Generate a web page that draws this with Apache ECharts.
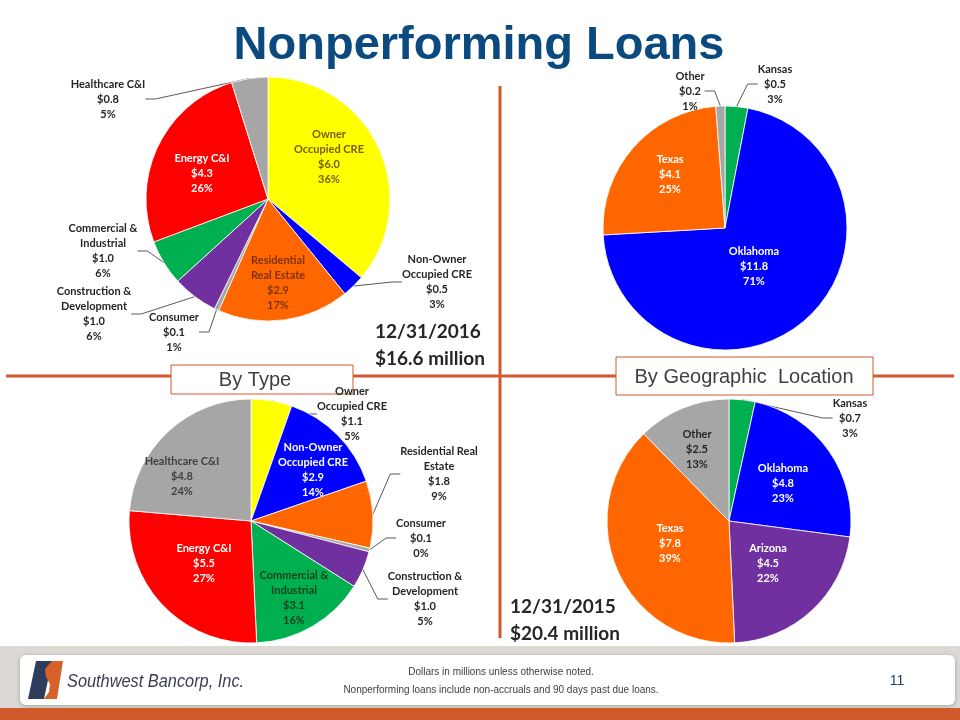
<!DOCTYPE html>
<html>
<head>
<meta charset="utf-8">
<title>Nonperforming Loans</title>
<script src="https://cdn.jsdelivr.net/npm/echarts@6/dist/echarts.min.js"></script>
<style>
  html, body { margin: 0; padding: 0; background: #fff; }
  #slide { width: 960px; height: 720px; }
</style>
</head>
<body>
<div id="slide"></div>
<script>
// 12/31/2016 by type
var type2016Names = ['Owner\nOccupied CRE', 'Non-Owner\nOccupied CRE', 'Residential\nReal Estate', 'Consumer',
  'Construction &\nDevelopment', 'Commercial &\nIndustrial', 'Energy C&I', 'Healthcare C&I'];
var type2016Values = [6.0, 0.5, 2.9, 0.1, 1.0, 1.0, 4.3, 0.8];
var type2016Pct = [36, 3, 17, 1, 6, 6, 26, 5];

// 12/31/2016 by geography
var geo2016Names = ['Kansas', 'Oklahoma', 'Texas', 'Other'];
var geo2016Values = [0.5, 11.8, 4.1, 0.2];
var geo2016Pct = [3, 71, 25, 1];

// 12/31/2015 by type
var type2015Names = ['Owner\nOccupied CRE', 'Non-Owner\nOccupied CRE', 'Residential Real\nEstate', 'Consumer',
  'Construction &\nDevelopment', 'Commercial &\nIndustrial', 'Energy C&I', 'Healthcare C&I'];
var type2015Values = [1.1, 2.9, 1.8, 0.1, 1.0, 3.1, 5.5, 4.8];
var type2015Pct = [5, 14, 9, 0, 5, 16, 27, 24];

// 12/31/2015 by geography
var geo2015Names = ['Kansas', 'Oklahoma', 'Arizona', 'Texas', 'Other'];
var geo2015Values = [0.7, 4.8, 4.5, 7.8, 2.5];
var geo2015Pct = [3, 23, 22, 39, 13];

// colours
var YELLOW = '#ffff00', BLUE = '#0000ff', ORANGE = '#ff6600', GRAY = '#a6a6a6',
    PURPLE = '#7030a0', GREEN = '#00b050', RED = '#ff0000';
var typeColors = [YELLOW, BLUE, ORANGE, GRAY, PURPLE, GREEN, RED, GRAY];
var DARK = '#262626', LINE = '#d2592c', TITLE = '#0b4a7e';

// label styling per slice: [textColor, outside?, labelX, labelY]
var type2016Labels = [
  ['#7a5c00', false, 329, 157], [DARK, true, 437, 282], ['#7f3300', false, 278, 283], [DARK, true, 174, 332],
  [DARK, true, 94, 314], [DARK, true, 103, 251], ['#fff', false, 202, 173], [DARK, true, 108, 99]
];
var geo2016Labels = [
  [DARK, true, 775, 84], ['#fff', false, 754, 266], ['#fff', false, 670, 174], [DARK, true, 690, 91]
];
var type2015Labels = [
  [DARK, true, 352, 414], ['#fff', false, 313, 470], [DARK, true, 439, 474], [DARK, true, 421, 538],
  [DARK, true, 425, 599], ['#14401f', false, 294, 598], ['#fff', false, 204, 563], ['#404040', false, 182, 476]
];
var geo2015Labels = [
  [DARK, true, 850, 418], ['#fff', false, 783, 483], ['#fff', false, 768, 563], ['#fff', false, 670, 543], [DARK, false, 697, 449]
];

function makePie(names, values, pct, colors, labels, center) {
  var data = names.map(function (n, i) {
    var lb = labels[i];
    return {
      name: n,
      value: values[i],
      pct: pct[i],
      itemStyle: { color: colors[i] },
      label: { color: lb[0], position: lb[1] ? 'outside' : 'inside' },
      labelLine: { show: lb[1] }
    };
  });
  return {
    type: 'pie',
    center: center,
    radius: 122,
    startAngle: 90,
    clockwise: true,
    avoidLabelOverlap: false,
    silent: true,
    z: 3,
    data: data,
    itemStyle: { borderColor: '#fff', borderWidth: 0.8 },
    label: {
      fontFamily: 'Lato, "Open Sans", sans-serif',
      fontWeight: 'bold',
      fontSize: 11,
      lineHeight: 15,
      align: 'center',
      formatter: function (p) {
        return p.name + '\n$' + p.value.toFixed(1) + '\n' + p.data.pct + '%';
      }
    },
    labelLine: { lineStyle: { color: '#595959', width: 1 }, length: 10, length2: 10 },
    labelLayout: function (p) {
      var lb = labels[p.dataIndex];
      return { x: lb[2], y: lb[3], align: 'center', verticalAlign: 'middle' };
    }
  };
}

var chart = echarts.init(document.getElementById('slide'), null, { renderer: 'canvas' });

var option = {
  animation: false,
  backgroundColor: '#ffffff',
  series: [
    makePie(type2016Names, type2016Values, type2016Pct, typeColors, type2016Labels, [268, 199]),
    makePie(geo2016Names, geo2016Values, geo2016Pct, [GREEN, BLUE, ORANGE, GRAY], geo2016Labels, [725, 228]),
    makePie(type2015Names, type2015Values, type2015Pct, typeColors, type2015Labels, [251, 521]),
    makePie(geo2015Names, geo2015Values, geo2015Pct, [GREEN, BLUE, PURPLE, ORANGE, GRAY], geo2015Labels, [729, 521])
  ],
  graphic: [
    // title
    { type: 'text', z: 10, x: 479, y: 46,
      style: { text: 'Nonperforming Loans', font: 'bold 47px "Liberation Sans", Arial, sans-serif', fill: TITLE,
        align: 'center', verticalAlign: 'middle' } },
    // divider lines
    { type: 'line', z: 0, shape: { x1: 6, y1: 376, x2: 954, y2: 376 }, style: { stroke: LINE, lineWidth: 3 } },
    { type: 'line', z: 0, shape: { x1: 500, y1: 86, x2: 500, y2: 638 }, style: { stroke: LINE, lineWidth: 3 } },
    // section boxes
    { type: 'rect', z: 1, shape: { x: 171, y: 365, width: 182, height: 29 },
      style: { fill: '#fff', stroke: LINE, lineWidth: 1 } },
    { type: 'text', z: 1, x: 255, y: 380,
      style: { text: 'By Type', font: '20px "Liberation Sans", Arial, sans-serif', fill: '#404040', align: 'center', verticalAlign: 'middle' } },
    { type: 'rect', z: 1, shape: { x: 616, y: 357, width: 257, height: 38 },
      style: { fill: '#fff', stroke: LINE, lineWidth: 1 } },
    { type: 'text', z: 1, x: 744, y: 377,
      style: { text: 'By Geographic  Location', font: '20px "Liberation Sans", Arial, sans-serif', fill: '#404040', align: 'center', verticalAlign: 'middle' } },
    // dates and totals
    { type: 'text', z: 6, x: 375, y: 318,
      style: { text: '12/31/2016\n$16.6 million', font: 'bold 19px Lato, sans-serif', lineHeight: 27, fill: DARK } },
    { type: 'text', z: 6, x: 510, y: 593,
      style: { text: '12/31/2015\n$20.4 million', font: 'bold 19px Lato, sans-serif', lineHeight: 27, fill: DARK } },
    // footer
    { type: 'rect', z: 1, shape: { x: 0, y: 646, width: 960, height: 74 }, style: { fill: '#dcd8d3' } },
    { type: 'rect', z: 2, shape: { x: 20, y: 655, width: 935, height: 50, r: 6 },
      style: { fill: '#ffffff', shadowBlur: 4, shadowColor: 'rgba(0,0,0,0.25)', shadowOffsetY: 1 } },
    { type: 'rect', z: 3, shape: { x: 0, y: 708, width: 960, height: 12 }, style: { fill: '#d2592c' } },
    { type: 'polygon', z: 4, shape: { points: [[36, 661], [52, 661], [44, 699], [28, 699]] }, style: { fill: '#2f3d5c' } },
    { type: 'polygon', z: 5, shape: { points: [[52, 661], [63, 661], [57, 699], [44, 699], [49, 692], [50, 684], [46, 677], [45, 669]] },
      style: { fill: '#d8602a' } },
    { type: 'text', z: 6, x: 67, y: 682, scaleX: 0.86,
      style: { text: 'Southwest Bancorp, Inc.', font: 'italic 19px "Liberation Sans", sans-serif',
        fill: '#3a3f55', verticalAlign: 'middle' } },
    { type: 'text', z: 6, x: 501, y: 681,
      style: { text: 'Dollars in millions unless otherwise noted.\nNonperforming loans include non-accruals and 90 days past due loans.',
        font: '10px "Liberation Sans", sans-serif', lineHeight: 18, fill: '#404040',
        align: 'center', verticalAlign: 'middle' } },
    { type: 'text', z: 6, x: 897, y: 681,
      style: { text: '11', font: '14px "Liberation Sans", sans-serif', fill: '#1f3f6e', align: 'center', verticalAlign: 'middle' } }
  ]
};

chart.setOption(option);
</script>
</body>
</html>
